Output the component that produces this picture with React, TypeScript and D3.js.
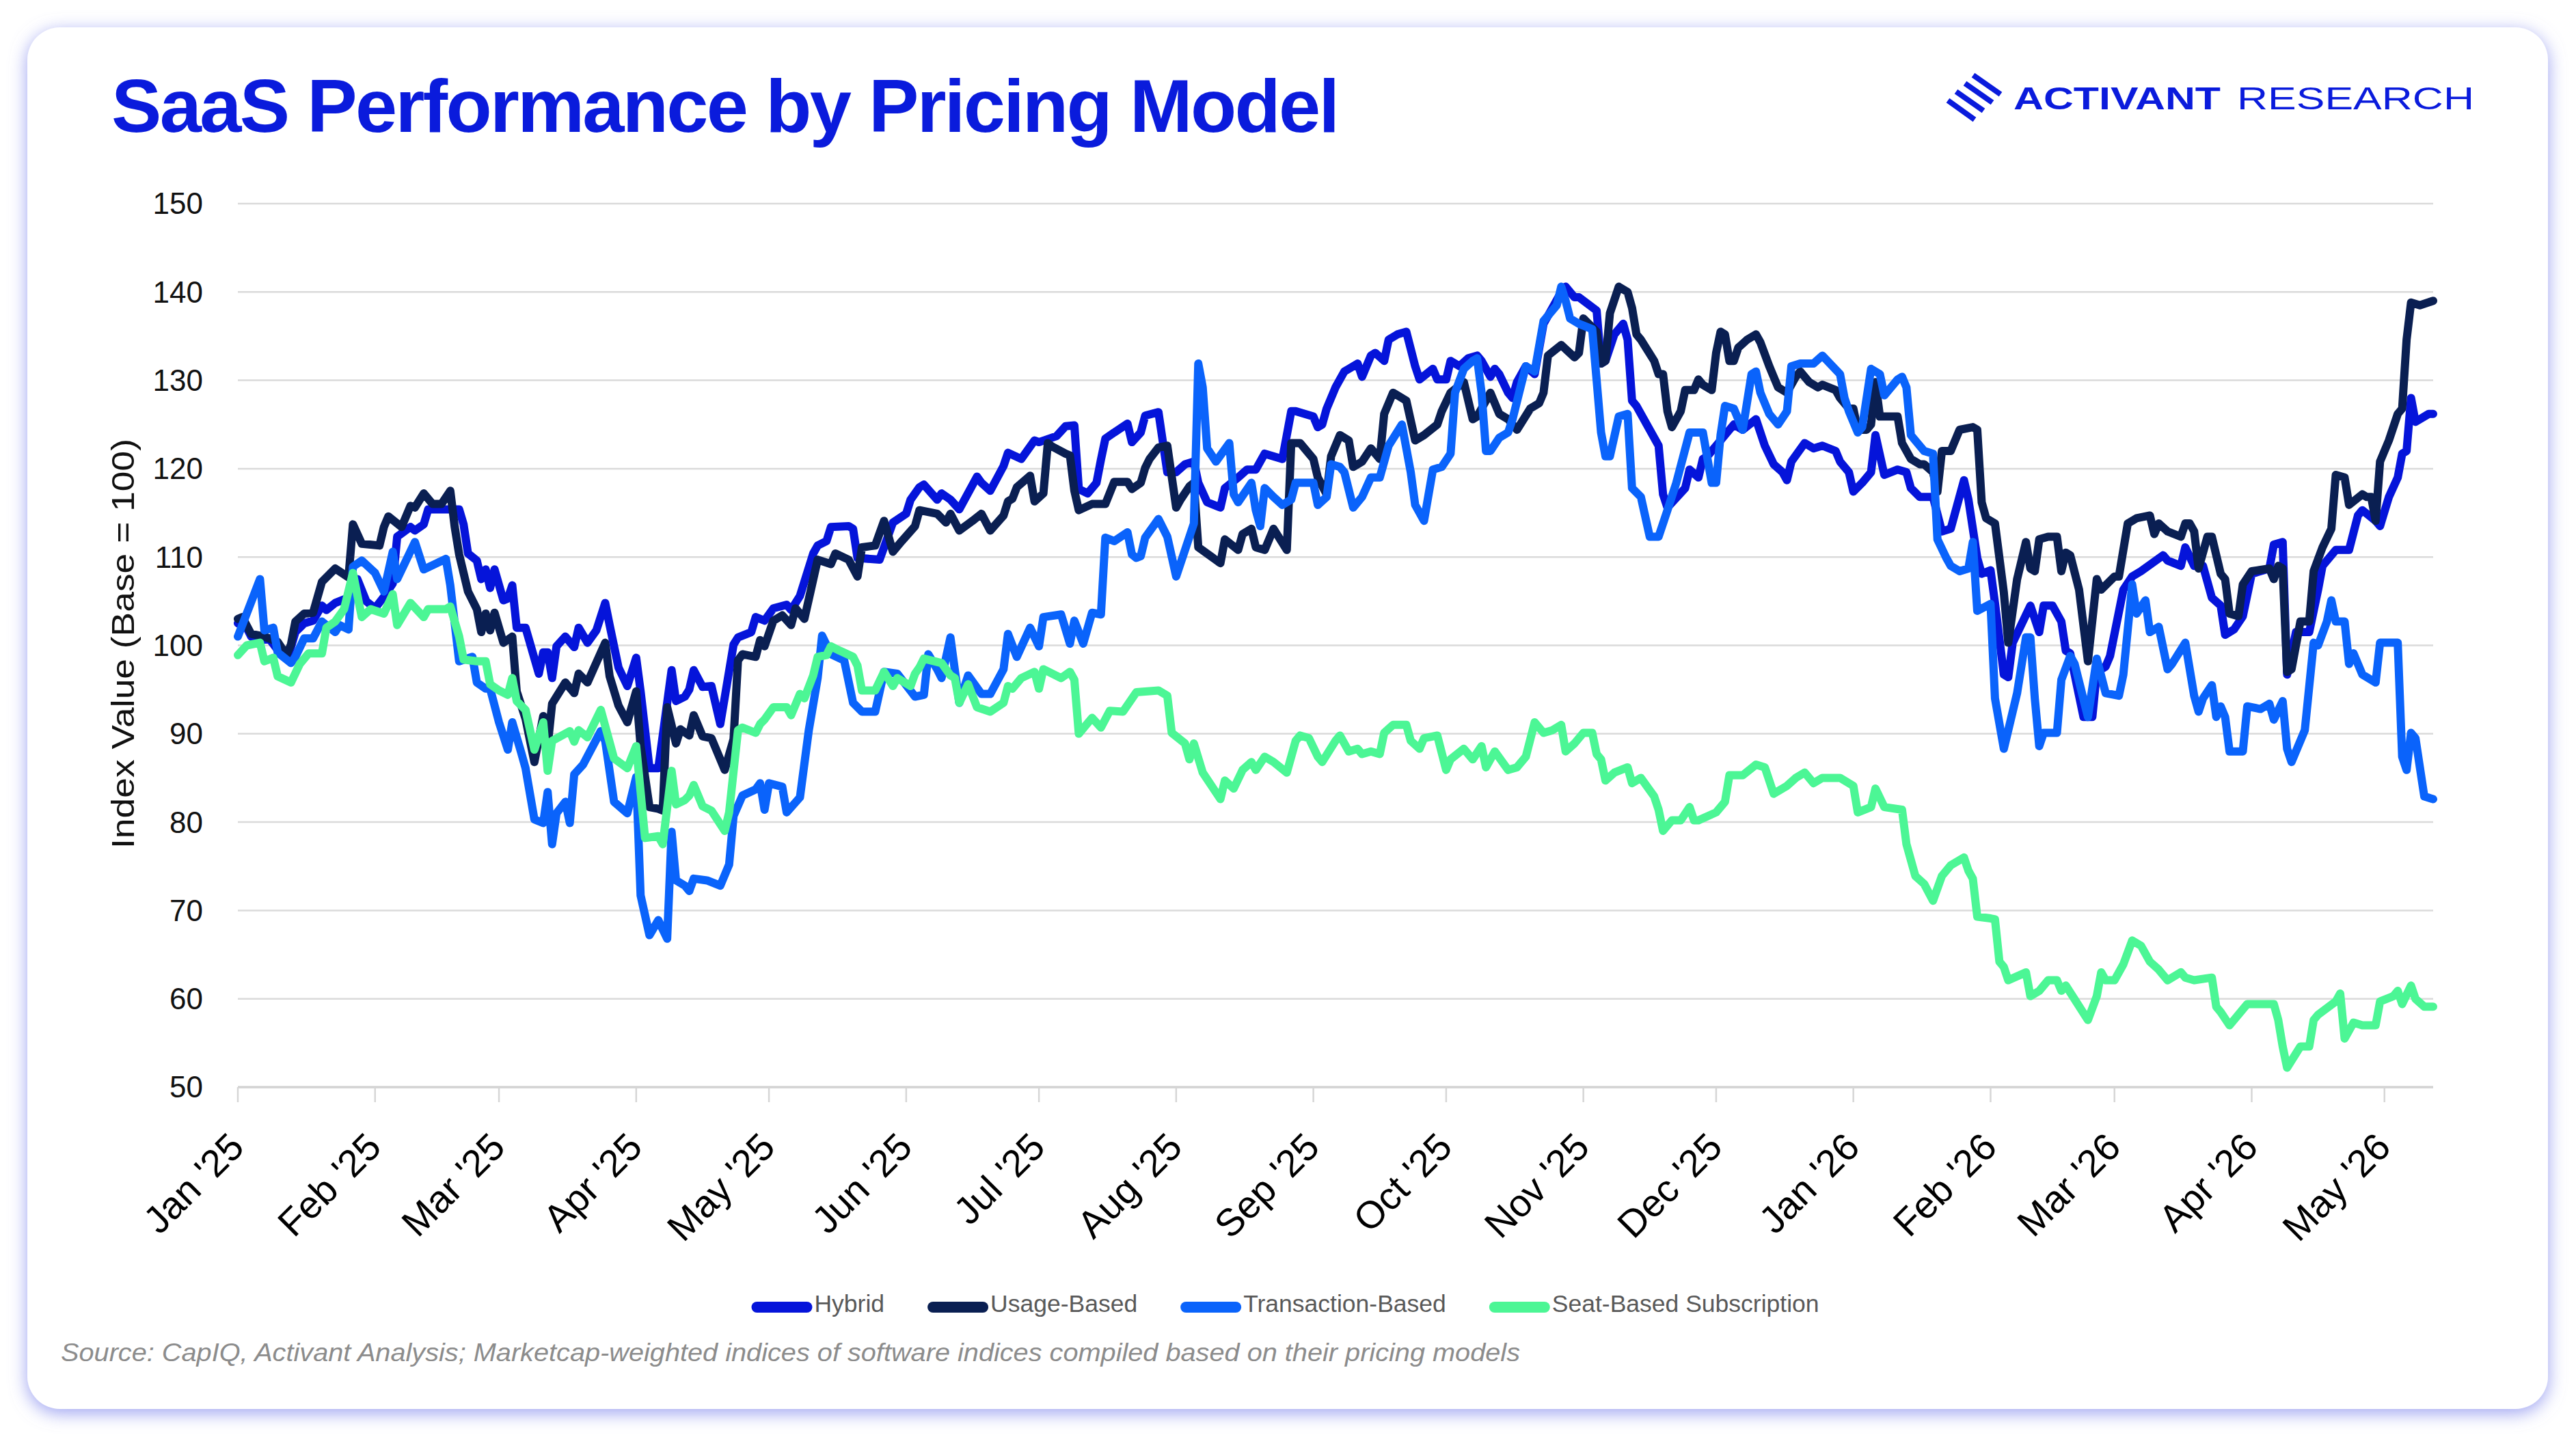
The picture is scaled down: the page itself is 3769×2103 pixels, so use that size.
import React, { useMemo } from "react";
import * as d3 from "d3";

// ---------- DATA (day offset since 2025-01-01, index value) ----------
const SERIES_NAMES = ["Hybrid", "Usage-Based", "Transaction-Based", "Seat-Based Subscription"];
const SERIES_COLORS = ["#0514da", "#0a1f52", "#0a63fb", "#4cf695"];

const HYBRID: [number, number][] = [[0,102.5],[2,102],[3,101],[5,100.5],[7,100.8],[9,99.5],[11,98.5],[12,99.8],[13,101.5],[15,102.5],[17,102.8],[19,104.5],[20,104],[22,104.8],[25,105.4],[27,107.5],[29,105],[31,104.2],[33,105.5],[35,107],[36,112.3],[39,113.4],[40,113],[42,113.7],[43,115.4],[47,115.4],[50,115.4],[51,113.7],[52,110.4],[54,109.6],[55,107.5],[56,108.6],[57,106.5],[58,108.6],[60,105.1],[61,105.3],[62,106.8],[63,102],[65,102],[68,96.8],[69,99.2],[70,99.2],[71,96.3],[72,99.9],[74,101],[76,99.8],[77,102],[79,100.3],[81,101.7],[83,104.8],[84,102.3],[86,97.5],[88,95.4],[90,98.6],[91,94.8],[93,86.1],[95,86.1],[98,97.2],[99,93.7],[101,94.2],[102,95],[103,97.2],[105,95.3],[107,95.4],[109,91.1],[112,100.1],[113,100.9],[116,101.5],[117,103.2],[119,102.8],[121,104.2],[124,104.6],[125,104],[127,105.6],[130,110.4],[131,111.3],[133,111.8],[134,113.4],[138,113.5],[139,113.2],[140,109.9],[145,109.7],[148,113.9],[151,114.9],[152,116.5],[154,117.9],[155,118.2],[158,116.5],[159,117.2],[161,116.5],[163,115.4],[167,119.1],[168,118.4],[170,117.5],[173,120.3],[174,121.8],[177,121.1],[180,123.2],[181,123],[185,123.7],[187,124.8],[189,124.9],[190,117.7],[192,117.2],[194,118.4],[195,121],[196,123.4],[198,124.1],[201,125.1],[202,123],[204,124.1],[205,126],[208,126.4],[210,119.6],[212,119.6],[214,120.5],[216,120.8],[217,118.4],[219,116.2],[222,115.6],[223,117.8],[226,119],[228,119.9],[230,119.9],[232,121.7],[236,121.1],[238,126.5],[239,126.5],[243,125.9],[244,124.7],[245,125],[246,126.8],[248,129.2],[250,131],[251,131.3],[253,131.9],[254,130.4],[256,132.8],[257,133.1],[259,132.2],[260,134.6],[262,135.2],[264,135.5],[266,131.6],[267,130.1],[270,131.3],[271,130.1],[273,130.1],[274,132.2],[276,131.6],[278,132.5],[280,132.8],[281,132.2],[283,130.4],[284,131.3],[285,130.7],[287,128.6],[288,128],[289,129.8],[291,131.6],[293,130.7],[295,136.4],[299,140],[300,140.6],[302,139.4],[303,139.4],[307,137.9],[308,131.9],[309,132.2],[311,135.2],[313,136.4],[314,134.6],[315,127.7],[316,127.1],[319,124.4],[321,122.6],[322,117.1],[323,115.6],[327,117.8],[328,119.9],[330,119],[331,121.1],[332,121.4],[336,123.8],[338,125],[340,124.4],[343,125.6],[345,122.6],[347,120.5],[349,119.6],[350,118.7],[351,120.8],[354,122.9],[356,122.3],[358,122.6],[361,122],[362,120.8],[364,119.6],[365,117.4],[367,118.4],[369,119.6],[370,123.8],[372,119.3],[375,119.9],[377,119.6],[378,117.8],[380,116.8],[383,116.8],[385,112.9],[387,113.2],[390,118.7],[391,116.5],[393,109.9],[394,108.1],[396,108.5],[397,104.8],[399,96.7],[400,96.4],[401,100.3],[405,104.5],[407,101.5],[408,104.5],[410,104.5],[412,102.7],[413,99.4],[414,99.1],[417,91.9],[419,91.9],[420,97],[422,97.6],[423,98.8],[426,106.3],[428,107.8],[430,108.4],[435,110.2],[436,109.6],[439,109],[440,111.1],[442,109],[444,109],[446,105.4],[448,104.5],[449,101.2],[451,101.8],[453,103.3],[455,108.1],[459,108.7],[460,111.4],[462,111.7],[463,96.7],[465,101.5],[468,101.5],[470,106.3],[471,109],[474,110.8],[477,110.8],[479,114.7],[480,115.3],[483,114.1],[484,113.5],[486,116.8],[488,119],[489,121.7],[490,122],[491,128],[492,125.3],[495,126.2],[496,126.2]];

const USAGE: [number, number][] = [[0,103],[1,103.2],[3,101.3],[6,101],[9,100.4],[11,98.9],[12,100.1],[13,102.7],[15,103.6],[17,103.7],[19,107.2],[22,108.7],[25,107.7],[26,113.7],[28,111.5],[32,111.3],[33,113.4],[34,114.6],[37,113.4],[39,115.8],[40,115.6],[42,117.2],[44,116],[46,116],[48,117.5],[49,113.4],[50,110.3],[52,106.1],[54,104.1],[55,101.5],[56,103.6],[57,101.7],[58,103.7],[60,100.3],[62,101],[63,94.8],[65,91.7],[67,86.8],[69,92],[70,88.6],[71,93.4],[74,95.8],[76,94.6],[77,96.8],[79,95.8],[83,100.3],[84,96.5],[86,93.2],[88,91.3],[90,94.8],[91,88.6],[93,81.7],[95,81.5],[96,81.3],[97,93],[99,88.9],[100,90.5],[102,89.8],[103,92.1],[105,89.7],[107,89.5],[110,85.9],[112,89.4],[113,98.3],[114,99],[117,98.7],[118,100.6],[119,99.9],[121,102.8],[123,103.4],[125,102.3],[126,104.2],[128,103],[131,109.7],[134,109.2],[135,110.4],[138,109.7],[140,107.8],[141,111.1],[144,111.3],[146,114.1],[148,110.6],[150,111.8],[153,113.5],[154,115.3],[158,114.9],[160,113.9],[161,114.9],[163,113],[166,114.1],[168,114.9],[170,113],[173,114.7],[174,116.3],[175,116.6],[176,117.9],[179,119.2],[180,116.3],[182,117.2],[183,122.9],[184,122.5],[187,121.7],[188,121.5],[189,117.5],[190,115.3],[193,116],[196,116],[198,118.5],[201,118.5],[202,117.7],[204,118.4],[205,120.1],[206,121.1],[208,122.4],[210,122.6],[212,115.6],[213,116.5],[215,118],[216,118.4],[217,111.1],[222,109.3],[223,112],[226,110.8],[227,112.6],[229,113.2],[230,111.1],[232,110.8],[234,113.2],[237,110.8],[238,122.9],[240,122.9],[243,121.1],[244,119],[246,117.1],[247,121.4],[249,123.8],[251,123.2],[252,120.2],[254,120.8],[256,122.3],[258,121.1],[259,126.2],[261,128.6],[264,127.7],[266,123.2],[268,123.8],[271,125],[272,126.5],[274,128.6],[277,129.8],[279,125.6],[280,125.9],[283,128.6],[285,126.2],[287,125.6],[289,124.4],[292,126.8],[294,127.4],[295,128.6],[296,132.8],[299,134],[302,132.6],[303,133.1],[304,137],[305,136.5],[307,135.5],[308,131.9],[309,132.2],[310,137.6],[312,140.6],[314,140],[315,138.2],[316,135.2],[317,134.6],[320,132.2],[321,130.7],[322,130.7],[323,126.5],[324,124.7],[326,126.5],[327,128.9],[329,128.9],[330,130.1],[331,129.5],[333,128.9],[334,133.1],[335,135.5],[336,135.2],[337,132.2],[338,132.2],[339,133.7],[341,134.6],[343,135.2],[344,134.3],[346,131.6],[348,129.2],[350,128.6],[352,130.4],[353,131],[355,129.8],[357,129.2],[358,129.5],[361,128.9],[362,128],[364,126.8],[365,126.8],[366,124.4],[368,124.4],[369,125],[370,129.8],[371,125.9],[373,125.9],[375,125.9],[376,122.9],[378,121.1],[380,120.5],[381,120.5],[383,119.6],[384,117.4],[385,122],[387,122],[389,124.4],[392,124.7],[393,124.4],[394,116.2],[395,114.4],[397,113.8],[399,106],[400,100.3],[402,107.5],[404,111.7],[405,108.7],[406,108.4],[407,112],[409,112.3],[411,112.3],[412,108.4],[413,110.5],[414,110.2],[416,106.3],[418,98.2],[420,107.5],[421,106.3],[424,107.8],[425,107.8],[427,113.8],[429,114.4],[432,114.7],[433,112.6],[434,113.8],[436,112.9],[439,112.3],[440,113.8],[441,113.8],[442,112.9],[443,108.7],[445,112.3],[446,112.3],[448,108.1],[449,107.5],[450,103.6],[452,103.3],[453,106.9],[455,108.4],[459,108.7],[460,107.5],[461,109],[462,108.7],[463,97],[464,97.3],[466,102.7],[468,102.7],[469,108.4],[471,111.1],[473,113.2],[474,119.3],[476,119],[477,115.9],[480,117.1],[481,116.8],[482,116.8],[483,114.1],[484,120.8],[486,123.2],[488,126.2],[489,126.8],[490,134.6],[491,138.8],[493,138.5],[496,139]];

const TRANSACTION: [number, number][] = [[0,101],[5,107.5],[6,101.7],[8,102],[9,99.2],[12,98],[13,98.7],[15,100.8],[17,100.8],[19,102.7],[22,101.5],[23,102.3],[25,101.8],[26,108.9],[28,109.6],[31,108.2],[33,106.1],[35,110.6],[36,107.5],[40,111.7],[42,108.6],[47,109.8],[48,106.8],[50,98.2],[53,98.7],[54,95.8],[56,95.1],[57,95.1],[59,91.3],[61,88.2],[62,91.3],[64,87.9],[65,86.1],[67,80.3],[69,79.9],[70,83.4],[71,77.5],[72,81],[74,82.3],[75,79.9],[76,85.4],[78,86.5],[82,90.3],[83,89.2],[85,82.3],[88,81],[90,85.1],[91,71.7],[93,67.2],[95,68.9],[97,66.8],[98,78.9],[99,73.4],[101,72.8],[102,72.2],[103,73.6],[106,73.4],[109,72.8],[111,75.2],[112,80.7],[114,83],[117,83.7],[118,84.4],[119,81.4],[120,84.4],[123,84],[124,81.1],[127,82.8],[129,90.4],[131,96.3],[132,101.1],[134,99],[137,98.3],[139,93.5],[141,92.5],[144,92.5],[146,97],[149,96.8],[153,94.2],[155,94.4],[156,99],[158,97.3],[159,96.3],[161,100.9],[163,93.5],[165,96.6],[168,94.5],[170,94.5],[173,97.3],[174,101.3],[176,98.7],[179,102],[181,99.9],[182,103.2],[186,103.5],[188,100.2],[189,102.8],[191,100.2],[193,103.7],[195,103.5],[196,112.2],[198,111.8],[201,112.8],[202,110.3],[203,109.9],[204,110.1],[205,112.2],[208,114.3],[210,112.3],[212,107.8],[216,113.8],[217,131.9],[218,129.2],[219,122.3],[221,120.8],[224,122.9],[225,117.1],[226,116.2],[229,118.4],[230,115.3],[231,113.5],[232,117.8],[234,116.8],[236,115.9],[238,116.5],[239,118.4],[243,118.4],[244,115.9],[246,116.8],[247,120.5],[249,120.2],[250,119.6],[252,115.6],[254,116.8],[256,119],[258,119],[260,122.6],[263,125],[265,119.6],[266,115.9],[268,114.1],[270,119.9],[272,120.2],[274,121.7],[275,128.6],[277,131.3],[279,132.2],[280,132.5],[281,128.6],[282,122],[283,122],[285,123.5],[287,124.1],[288,125.6],[291,131.6],[293,131],[295,136.7],[298,138.5],[299,140.6],[300,139],[301,137],[303,136.4],[306,135.8],[307,130],[308,124.1],[309,121.4],[310,121.4],[312,125.9],[314,126.2],[315,117.8],[317,116.8],[319,112.3],[321,112.3],[323,115.3],[325,118.4],[328,124.1],[331,124.1],[333,118.4],[334,118.4],[335,123.8],[336,127.1],[338,126.8],[340,124.4],[342,130.7],[343,131],[344,128.6],[346,126.2],[348,125],[350,126.5],[351,131.6],[353,131.9],[356,131.9],[358,132.8],[362,130.7],[363,128],[364,126.5],[366,124.1],[367,124.7],[369,131.3],[371,130.7],[372,128.3],[375,130.1],[376,130.4],[377,129.2],[378,123.8],[381,122],[383,121.7],[384,112],[386,109.9],[387,109],[389,108.4],[391,108.7],[392,111.7],[393,103.9],[396,104.7],[397,94],[399,88.3],[402,94.6],[404,100.9],[405,100.9],[406,94],[407,88.6],[408,90.1],[411,90.1],[412,96.1],[414,98.8],[415,97.9],[418,91.9],[420,98.5],[422,94.6],[425,94.3],[426,96.7],[428,106.9],[429,103.6],[431,105.1],[432,101.5],[434,102.1],[436,97.3],[437,97.9],[440,100.3],[442,94.3],[443,92.5],[444,94],[446,95.5],[447,91.9],[448,93.1],[449,91.9],[450,88],[453,88],[454,93.1],[457,92.8],[459,93.4],[460,91.6],[462,93.7],[463,88.3],[464,86.8],[467,90.4],[469,100.3],[470,100],[472,102.7],[473,105.1],[474,102.7],[476,102.7],[477,97.9],[478,99.1],[480,96.7],[483,95.8],[484,100.3],[488,100.3],[489,87.4],[490,85.9],[491,90.1],[492,89.5],[494,82.9],[496,82.6]];

const SEAT: [number, number][] = [[0,98.9],[2,100],[5,100.3],[6,98.2],[8,98.6],[9,96.5],[12,95.8],[14,97.9],[16,99.1],[19,99.1],[20,102],[22,102.7],[24,104.1],[26,108.2],[28,103.2],[30,104.1],[33,103.6],[35,105.8],[36,102.3],[39,104.8],[42,103.2],[43,104.1],[47,104.1],[48,104.4],[50,101],[51,98.4],[54,98.2],[56,98.2],[57,95.6],[59,94.9],[61,94.4],[62,96.3],[63,93.7],[65,92.7],[67,88.2],[69,91.3],[70,85.8],[71,89.2],[75,90.3],[76,89.1],[77,90.4],[79,89.6],[82,92.7],[85,87.2],[88,86.1],[90,88.6],[92,78.2],[95,78.4],[96,77.5],[98,85.8],[99,82],[101,82.5],[102,83],[103,84.2],[105,81.8],[107,81.3],[110,79],[111,81.1],[113,90.4],[114,90.7],[117,90.1],[118,91.1],[119,91.6],[121,93],[124,93],[125,92.1],[127,94.5],[128,94],[130,96.6],[131,98.7],[133,98.9],[134,99.9],[136,99.4],[139,98.7],[140,97.7],[141,94.9],[144,94.9],[146,97],[148,95.4],[149,96.3],[152,95.4],[153,96.8],[154,97.5],[155,98.5],[159,98],[161,96.6],[162,96.3],[163,93.5],[165,95.6],[167,93],[170,92.5],[173,93.5],[174,95.4],[175,95.1],[177,96.3],[180,97],[181,95.1],[182,97.3],[186,96.3],[188,97],[189,96.1],[190,90],[193,91.8],[195,90.7],[197,92.6],[200,92.5],[203,94.7],[208,94.9],[210,94.3],[211,90.1],[214,88.9],[215,87.1],[216,88.9],[218,85.6],[222,82.6],[223,84.7],[225,83.8],[227,85.9],[229,86.8],[230,85.9],[232,87.4],[234,86.8],[237,85.6],[239,89.2],[240,89.8],[242,89.5],[244,87.4],[245,86.8],[248,89.2],[249,89.8],[251,88],[253,88.3],[254,87.7],[256,88],[258,87.7],[259,90.1],[261,91],[264,91],[265,89.2],[267,88.3],[268,89.5],[271,89.8],[273,85.9],[274,87.1],[277,88.3],[279,87.1],[281,88.6],[282,86.2],[284,88],[287,85.9],[289,86.2],[291,87.4],[293,91.3],[295,90.1],[297,90.4],[299,91],[300,88],[302,88.9],[304,90.1],[306,90.1],[307,87.7],[308,87.1],[309,84.7],[311,85.6],[314,86.2],[315,84.4],[317,85],[320,82.9],[321,81.4],[322,79],[324,80.2],[326,80.2],[328,81.7],[329,80.2],[330,80.2],[334,81.1],[336,82.3],[337,85.3],[340,85.3],[343,86.5],[345,86.2],[347,83.2],[350,84.1],[352,85],[354,85.6],[356,84.4],[358,85],[362,85],[365,84.1],[366,81.1],[369,81.7],[370,83.8],[372,81.7],[376,81.4],[377,77.5],[379,73.9],[381,73],[383,71.1],[385,73.9],[387,75.1],[390,76],[391,74.5],[392,73.6],[393,69.3],[396,69.1],[397,69],[398,64.2],[399,63.6],[400,62.1],[404,63],[405,60.3],[407,60.9],[409,62.1],[411,62.1],[412,60.9],[413,61.5],[418,57.6],[420,60.3],[421,63],[422,62.1],[424,62.1],[426,63.9],[428,66.6],[430,66],[432,64.2],[434,63.3],[436,62.1],[439,63],[440,62.4],[442,62.1],[446,62.4],[447,59.1],[448,58.5],[450,57],[453,58.8],[454,59.4],[460,59.4],[461,57.6],[462,54.6],[463,52.2],[466,54.6],[468,54.6],[469,57.6],[470,58.2],[474,59.7],[475,60.6],[476,55.5],[478,57.3],[480,57],[483,57],[484,59.7],[487,60.3],[488,60.9],[489,59.4],[491,61.5],[492,60],[494,59.1],[496,59.1]];

const Y_TICKS = [50, 60, 70, 80, 90, 100, 110, 120, 130, 140, 150];
const TITLE = "SaaS Performance by Pricing Model";
const Y_TITLE = "Index Value (Base = 100)";
const SOURCE = "Source: CapIQ, Activant Analysis; Marketcap-weighted indices of software indices compiled based on their pricing models";
const START_MS = Date.UTC(2025, 0, 1);
const LAST_DAY = 496;

// ---------- LAYOUT ----------
const W = 3769;
const H = 2103;
const PLOT = { left: 348, right: 3560, top: 298, bottom: 1591 };
const FONT = "'Liberation Sans', Arial, Helvetica, sans-serif";

const toDate = (d: number) => new Date(START_MS + d * 86400000);

export default function App() {
  const x = d3.scaleUtc().domain([toDate(0), toDate(LAST_DAY)]).range([PLOT.left, PLOT.right]);
  const y = d3.scaleLinear().domain([50, 150]).range([PLOT.bottom, PLOT.top]);
  const line = d3
    .line<[number, number]>()
    .x((p) => x(toDate(p[0])))
    .y((p) => y(p[1]));

  const seriesData = [HYBRID, USAGE, TRANSACTION, SEAT];
  const months = d3.utcMonth.range(toDate(0), toDate(LAST_DAY + 0.5));
  const fmt = d3.utcFormat("%b '%y");

  const legendFontSize = 35.5;
  const legend = useMemo(() => {
    const canvas = document.createElement("canvas");
    const ctx = canvas.getContext("2d")!;
    ctx.font = `${legendFontSize}px 'Liberation Sans', Arial, sans-serif`;
    const sw = 89;
    const pad = 3;
    const gap = 63;
    const widths = SERIES_NAMES.map((n) => ctx.measureText(n).width);
    const total = widths.reduce((a, b) => a + b, 0) + SERIES_NAMES.length * (sw + pad) + gap * (SERIES_NAMES.length - 1);
    let cx = 1880.5 - total / 2;
    return SERIES_NAMES.map((n, i) => {
      const item = { name: n, color: SERIES_COLORS[i], sx: cx, tx: cx + sw + pad, sw };
      cx += sw + pad + widths[i] + gap;
      return item;
    });
  }, []);

  return (
    <div style={{ position: "absolute", left: 0, top: 0, width: W, height: H, background: "#fff" }}>
      <svg width={W} height={H} viewBox={`0 0 ${W} ${H}`} style={{ display: "block" }}>
        <defs>
          <filter id="glow" x="-5%" y="-5%" width="110%" height="110%">
            <feDropShadow dx="0" dy="6" stdDeviation="13" floodColor="#8b92ee" floodOpacity="0.85" />
          </filter>
        </defs>
        <rect x={0} y={0} width={W} height={H} fill="#ffffff" />
        <rect x={40} y={40} width={3688} height={2022} rx={48} ry={48} fill="#ffffff" filter="url(#glow)" />

        {/* Title */}
        <text x={163} y={193} fontFamily={FONT} fontWeight={700} fontSize={110} fill="#0a1bdc" textLength={1797} lengthAdjust="spacing">
          {TITLE}
        </text>

        {/* Logo */}
        <g stroke="#0a1bdc" strokeWidth={8} strokeLinecap="butt">
          <line x1={2887} y1={110} x2={2927} y2={138} />
          <line x1={2875} y1={122} x2={2915} y2={150} />
          <line x1={2862} y1={134} x2={2902} y2={162} />
          <line x1={2850} y1={147} x2={2889} y2={175} />
        </g>
        <text x={2946} y={160} fontFamily={FONT} fontWeight={700} fontSize={46} fill="#0a1bdc" textLength={303} lengthAdjust="spacingAndGlyphs">
          ACTIVANT
        </text>
        <text x={3273} y={160} fontFamily={FONT} fontWeight={400} fontSize={46} fill="#0a1bdc" textLength={347} lengthAdjust="spacingAndGlyphs">
          RESEARCH
        </text>

        {/* Grid */}
        {Y_TICKS.map((t) => (
          <line
            key={"g" + t}
            x1={PLOT.left}
            x2={PLOT.right}
            y1={y(t)}
            y2={y(t)}
            stroke={t === 50 ? "#d3d3d3" : "#dadada"}
            strokeWidth={t === 50 ? 3.5 : 2.5}
          />
        ))}
        {Y_TICKS.map((t) => (
          <text key={"yl" + t} x={297} y={y(t)} dy="0.35em" textAnchor="end" fontFamily={FONT} fontSize={44} fill="#111">
            {t}
          </text>
        ))}
        <text
          transform={`translate(196, 942) rotate(-90)`}
          textAnchor="middle"
          fontFamily={FONT}
          fontSize={46}
          fill="#111"
          textLength={600}
          lengthAdjust="spacingAndGlyphs"
        >
          {Y_TITLE}
        </text>

        {/* X ticks */}
        {months.map((m, i) => (
          <g key={"m" + i}>
            <line x1={x(m)} x2={x(m)} y1={PLOT.bottom} y2={PLOT.bottom + 22} stroke="#d6d6d6" strokeWidth={2.5} />
            <text
              transform={`translate(${x(m) + 12}, ${PLOT.bottom + 91}) rotate(-45)`}
              textAnchor="end"
              fontFamily={FONT}
              fontSize={56}
              fill="#000"
            >
              {fmt(m)}
            </text>
          </g>
        ))}

        {/* Lines */}
        {seriesData.map((s, i) => (
          <path
            key={"s" + i}
            d={line(s) || ""}
            fill="none"
            stroke={SERIES_COLORS[i]}
            strokeWidth={12}
            strokeLinejoin="round"
            strokeLinecap="round"
          />
        ))}

        {/* Legend */}
        {legend.map((it) => (
          <g key={it.name}>
            <rect x={it.sx} y={1905} width={it.sw} height={16} rx={8} fill={it.color} />
            <text x={it.tx} y={1920} fontFamily={FONT} fontSize={legendFontSize} fill="#595959">
              {it.name}
            </text>
          </g>
        ))}

        {/* Source */}
        <text x={89} y={1992} fontFamily={FONT} fontStyle="italic" fontSize={37} fill="#8c8c8c" textLength={2135} lengthAdjust="spacingAndGlyphs">
          {SOURCE}
        </text>
      </svg>
    </div>
  );
}
